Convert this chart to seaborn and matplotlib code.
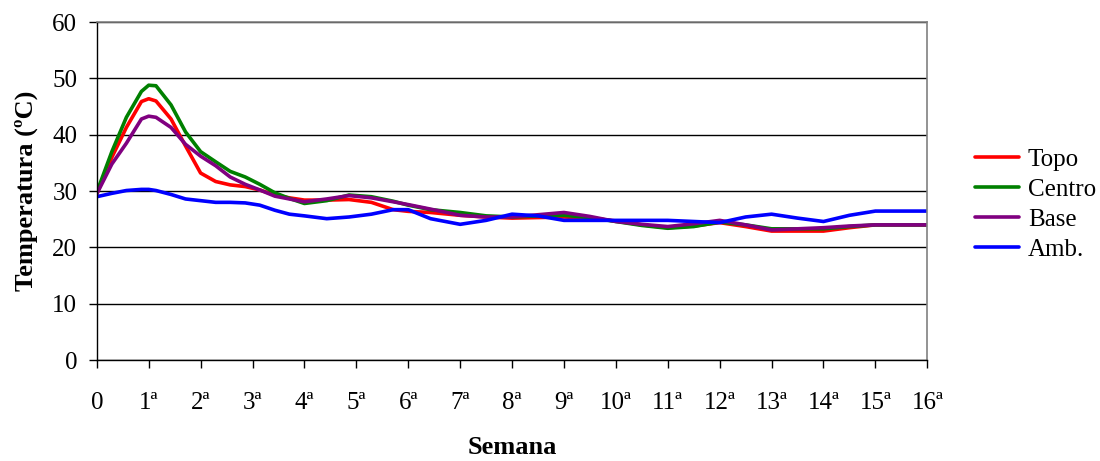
import numpy as np
import pandas as pd
import matplotlib
matplotlib.use("Agg")
import matplotlib.pyplot as plt
import seaborn as sns

weeks = [0, 0.29, 0.57, 0.86, 1.0, 1.14, 1.43, 1.71, 2.0, 2.29, 2.57, 2.86, 3.14, 3.43,
         3.71, 4.0, 4.43, 4.86, 5.29, 5.71, 6.0, 6.43, 7.0, 7.5, 8.0, 8.5, 9.0, 9.5,
         10.0, 10.5, 11.0, 11.5, 12.0, 12.5, 13.0, 13.5, 14.0, 14.5, 15.0, 15.5, 16.0]

topo = [29.5, 36.0, 41.3, 45.9, 46.4, 46.0, 42.8, 38.0, 33.2, 31.7, 31.1, 30.8, 30.2, 29.3,
        28.8, 28.4, 28.4, 28.5, 28.0, 26.7, 26.4, 26.2, 25.7, 25.4, 25.2, 25.3, 25.4, 25.2,
        24.7, 24.0, 23.5, 23.8, 24.4, 23.7, 22.9, 22.9, 22.9, 23.5, 24.0, 24.0, 24.0]

centro = [29.8, 37.0, 43.1, 47.7, 48.8, 48.7, 45.3, 40.5, 37.0, 35.2, 33.5, 32.5, 31.2, 29.7,
          28.7, 27.8, 28.3, 29.3, 29.0, 28.2, 27.5, 26.7, 26.2, 25.6, 25.4, 25.6, 25.7, 25.3,
          24.6, 23.9, 23.4, 23.7, 24.5, 24.0, 23.3, 23.3, 23.3, 23.7, 24.0, 24.0, 24.0]

base = [29.5, 34.8, 38.5, 42.8, 43.3, 43.1, 41.3, 38.3, 36.2, 34.5, 32.5, 31.2, 30.2, 29.1,
        28.6, 28.1, 28.6, 29.2, 28.8, 28.1, 27.6, 26.8, 25.7, 25.4, 25.4, 25.8, 26.2, 25.5,
        24.6, 24.1, 23.7, 24.2, 24.8, 24.0, 23.1, 23.3, 23.5, 23.8, 24.0, 24.0, 24.0]

amb = [29.0, 29.6, 30.1, 30.3, 30.3, 30.1, 29.4, 28.6, 28.3, 28.0, 28.0, 27.9, 27.5, 26.6,
       25.9, 25.6, 25.1, 25.4, 25.9, 26.7, 26.7, 25.1, 24.1, 24.8, 25.9, 25.6, 24.8, 24.8,
       24.8, 24.8, 24.8, 24.6, 24.4, 25.4, 25.9, 25.2, 24.6, 25.7, 26.45, 26.45, 26.45]

series_names = ["Topo", "Centro", "Base", "Amb."]
series_colors = ["#FF0000", "#008000", "#800080", "#0000FF"]

tick_weeks = list(range(0, 17))
tick_labels = ["0"] + [f"{i}ª" for i in range(1, 17)]

df = pd.concat([
    pd.DataFrame({"Semana": weeks, "Temp": vals, "Serie": name})
    for name, vals in zip(series_names, [topo, centro, base, amb])
], ignore_index=True)

sns.set_style("white")
plt.rcParams["font.family"] = ["Liberation Serif", "DejaVu Serif"]
plt.rcParams["text.color"] = "black"
plt.rcParams["axes.labelcolor"] = "black"
plt.rcParams["xtick.color"] = "black"
plt.rcParams["ytick.color"] = "black"

fig = plt.figure(figsize=(11, 4.61), dpi=100)
ax = fig.add_axes([0.088, 0.219, 0.755, 0.733])

sns.lineplot(data=df, x="Semana", y="Temp", hue="Serie", hue_order=series_names,
             palette=series_colors, linewidth=2.6, ax=ax, sort=False)

ax.set_xlim(0, 16)
ax.set_ylim(0, 60)
ax.set_yticks(range(0, 61, 10))
ax.set_xticks(tick_weeks)
ax.set_xticklabels(tick_labels)
ax.yaxis.grid(True, color="black", linewidth=1.0)
ax.xaxis.grid(False)
ax.set_axisbelow(True)

for s in ["left", "bottom"]:
    ax.spines[s].set_color("black")
    ax.spines[s].set_linewidth(1.0)
for s in ["right", "top"]:
    ax.spines[s].set_color("#808080")
    ax.spines[s].set_linewidth(1.2)

ax.tick_params(axis="both", which="major", labelsize=18, direction="out",
               length=6, width=1, color="black", labelcolor="black", left=True, bottom=True)
ax.tick_params(axis="x", pad=17)
ax.tick_params(axis="y", pad=8)

ax.set_xlabel("Semana", fontsize=19, fontweight="bold", labelpad=16, color="black")
ax.set_ylabel("Temperatura (ºC)", fontsize=19, fontweight="bold", labelpad=10, color="black")

leg = ax.legend(loc="center left", bbox_to_anchor=(1.058, 0.46), frameon=False,
                fontsize=18, handlelength=1.75, labelspacing=0.3, handletextpad=0.35,
                borderpad=0, borderaxespad=0)
for line in leg.get_lines():
    line.set_linewidth(2.6)
for t in leg.get_texts():
    t.set_color("black")

fig.savefig("out.png", dpi=100)
